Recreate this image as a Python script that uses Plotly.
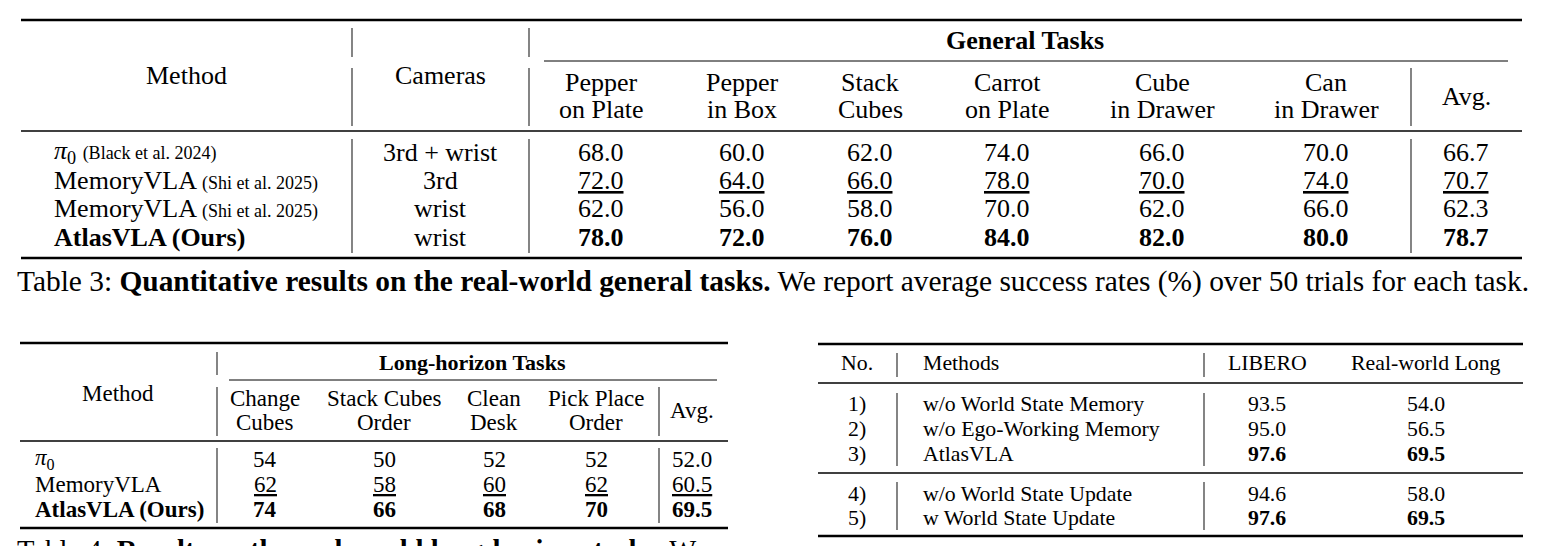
import plotly.graph_objects as go

# ---- Table 3: real-world general tasks
t3_task_top = ["Pepper", "Pepper", "Stack", "Carrot", "Cube", "Can"]
t3_task_bottom = ["on Plate", "in Box", "Cubes", "on Plate", "in Drawer", "in Drawer"]
t3_methods = ["<i>π</i><sub>0</sub>", "MemoryVLA", "MemoryVLA", "AtlasVLA (Ours)"]
t3_refs = ["(Black et al. 2024)", "(Shi et al. 2025)", "(Shi et al. 2025)", ""]
t3_cameras = ["3rd + wrist", "3rd", "wrist", "wrist"]
t3_scores = [
    [68.0, 60.0, 62.0, 74.0, 66.0, 70.0],
    [72.0, 64.0, 66.0, 78.0, 70.0, 74.0],
    [62.0, 56.0, 58.0, 70.0, 62.0, 66.0],
    [78.0, 72.0, 76.0, 84.0, 82.0, 80.0],
]
t3_avg = [66.7, 70.7, 62.3, 78.7]

# ---- Table 4: real-world long-horizon tasks
t4_task_top = ["Change", "Stack Cubes", "Clean", "Pick Place"]
t4_task_bottom = ["Cubes", "Order", "Desk", "Order"]
t4_methods = ["<i>π</i><sub>0</sub>", "MemoryVLA", "AtlasVLA (Ours)"]
t4_scores = [
    [54, 50, 52, 52],
    [62, 58, 60, 62],
    [74, 66, 68, 70],
]
t4_avg = [52.0, 60.5, 69.5]

# ---- Table 5: ablations
t5_no = ["1)", "2)", "3)", "4)", "5)"]
t5_methods = ["w/o World State Memory", "w/o Ego-Working Memory", "AtlasVLA",
              "w/o World State Update", "w World State Update"]
t5_libero = [93.5, 95.0, 97.6, 94.6, 97.6]
t5_real = [54.0, 56.5, 69.5, 58.0, 69.5]
t5_groups = [[0, 1, 2], [3, 4]]

FONT = "Liberation Serif"
W, H = 1542, 546
PAD = 8  # page body margin, the axes are shifted so units match window pixels

fig = go.Figure()


def text(x, y, s, size, anchor="center", yref="y"):
    fig.add_annotation(x=x, y=y, text=s, showarrow=False, xref="x", yref=yref,
                       xanchor=anchor, yanchor="middle", borderpad=0,
                       font=dict(family=FONT, size=size, color="black"))


def hline(y, x0, x1, w):
    fig.add_shape(type="line", xref="x", yref="y", x0=x0, x1=x1, y0=y, y1=y,
                  line=dict(color="black", width=w))


def vline(x, y0, y1):
    fig.add_shape(type="line", xref="x", yref="y", x0=x, x1=x, y0=y0, y1=y1,
                  line=dict(color="#333333", width=1.2))


def styled(v, col, fmt):
    # bold for best, underline for runner-up
    ranked = sorted(set(col), reverse=True)
    s = fmt.format(v)
    if v == ranked[0]:
        return "<b>" + s + "</b>"
    if len(ranked) > 1 and v == ranked[1]:
        return "<u>" + s + "</u>"
    return s


# ================= Table 3 =================
t3_size = 26
t3_cols = [601, 742, 870, 1007, 1162, 1326]
t3_rows = [152, 180, 208, 237]
hline(20, 21, 1522, 2.6)
hline(61, 544, 1508, 1)
hline(131, 21, 1522, 1.6)
hline(258, 21, 1522, 2.6)
for x in (352, 529):
    vline(x, 28, 57)
    vline(x, 68, 126)
    vline(x, 139, 253)
vline(1411, 68, 126)
vline(1411, 139, 253)

text(1025, 40, "<b>General Tasks</b>", t3_size)
text(186, 75, "Method", t3_size)
text(440, 75, "Cameras", t3_size)
for x, a, b in zip(t3_cols, t3_task_top, t3_task_bottom):
    text(x, 82, a, t3_size)
    text(x, 109, b, t3_size)
text(1466, 96, "Avg.", t3_size)

best3 = t3_avg.index(max(t3_avg))
for i, y in enumerate(t3_rows):
    name = "<b>" + t3_methods[i] + "</b>" if i == best3 else t3_methods[i]
    if t3_refs[i]:
        name += " <span style='font-size:18px'>" + t3_refs[i] + "</span>"
    text(53, y, name, t3_size, anchor="left")
    text(440, y, t3_cameras[i], t3_size)
    for j, x in enumerate(t3_cols):
        col = [r[j] for r in t3_scores]
        text(x, y, styled(t3_scores[i][j], col, "{:.1f}"), t3_size)
    text(1466, y, styled(t3_avg[i], t3_avg, "{:.1f}"), t3_size)

text(16, 281, "Table 3: <b>Quantitative results on the real-world general tasks.</b> "
     "We report average success rates (%) over 50 trials for each task.", 29.4, anchor="left")

# ================= Table 4 =================
t4_size = 23
t4_cols = [265, 384, 494, 596]
t4_rows = [459, 484, 509]
hline(343, 20, 728, 2.6)
hline(380, 229, 717, 1)
hline(441, 20, 728, 1.6)
hline(528, 20, 728, 2.6)
vline(217, 352, 375)
for x in (217, 659):
    vline(x, 387, 436)
    vline(x, 448, 523)

text(472, 362, "<b>Long-horizon Tasks</b>", 22)
text(118, 393, "Method", t4_size)
for x, a, b in zip(t4_cols, t4_task_top, t4_task_bottom):
    text(x, 398, a, t4_size)
    text(x, 422, b, t4_size)
text(692, 410, "Avg.", t4_size)

best4 = t4_avg.index(max(t4_avg))
for i, y in enumerate(t4_rows):
    name = "<b>" + t4_methods[i] + "</b>" if i == best4 else t4_methods[i]
    text(34, y, name, t4_size, anchor="left")
    for j, x in enumerate(t4_cols):
        col = [r[j] for r in t4_scores]
        text(x, y, styled(t4_scores[i][j], col, "{:d}"), t4_size)
    text(692, y, styled(t4_avg[i], t4_avg, "{:.1f}"), t4_size)

# caption of table 4 runs past the bottom edge, as in the page crop
text(16, 1 - (550 - PAD) / (H - PAD),
     "Table 4: <b>Results on the real-world long-horizon tasks.</b> We",
     28.6, anchor="left", yref="paper")

# ================= Table 5 =================
t5_size = 21.8
t5_rows = [404, 429, 454, 494, 518]
hline(344, 818, 1523, 2.6)
hline(383, 818, 1523, 1.6)
hline(473, 818, 1523, 1.6)
hline(536, 818, 1523, 2.6)
for x in (897, 1204):
    vline(x, 353, 377)
    vline(x, 393, 466)
    vline(x, 482, 530)

text(857, 363, "No.", t5_size)
text(922, 363, "Methods", t5_size, anchor="left")
text(1267, 363, "LIBERO", t5_size)
text(1426, 363, "Real-world Long", t5_size)

for g in t5_groups:
    lib_best = max(t5_libero[k] for k in g)
    real_best = max(t5_real[k] for k in g)
    for k in g:
        y = t5_rows[k]
        lib = "{:.1f}".format(t5_libero[k])
        real = "{:.1f}".format(t5_real[k])
        if t5_libero[k] == lib_best:
            lib = "<b>" + lib + "</b>"
        if t5_real[k] == real_best:
            real = "<b>" + real + "</b>"
        text(857, y, t5_no[k], t5_size)
        text(922, y, t5_methods[k], t5_size, anchor="left")
        text(1267, y, lib, t5_size)
        text(1426, y, real, t5_size)

fig.update_xaxes(range=[PAD, W], visible=False, fixedrange=True)
fig.update_yaxes(range=[H, PAD], visible=False, fixedrange=True)
fig.update_layout(width=W - PAD, height=H - PAD, margin=dict(l=0, r=0, t=0, b=0),
                  plot_bgcolor="white", paper_bgcolor="white", showlegend=False)

fig.write_html("out.html")
